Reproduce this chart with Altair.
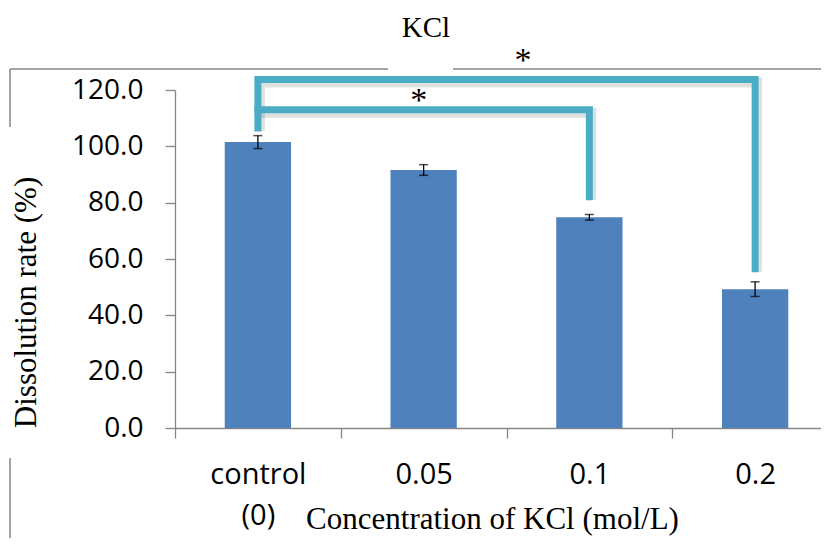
import altair as alt
import pandas as pd

# ---- data ----
categories = ["control", "0.05", "0.1", "0.2"]
means = [101.5, 91.6, 74.8, 49.3]
errors = [2.3, 1.9, 1.0, 2.6]

# significance brackets: (bracket id, category, y value, order)
br_id = ["outer", "outer", "outer", "outer", "inner", "inner", "inner"]
br_cat = ["control", "control", "0.2", "0.2", "control", "0.1", "0.1"]
br_val = [106.5, 123.7, 123.7, 56.5, 113.0, 113.0, 82.1]
br_ord = [0, 1, 2, 3, 0, 1, 2]

# asterisks: position in band units along x, y value
star_x = [2.1, 1.47]
star_y = [126.7, 112.5]
star_txt = ["*", "*"]

chart_title = "KCl"

bars_df = pd.DataFrame({"cat": categories, "mean": means, "err": errors})
br_df = pd.DataFrame({"id": br_id, "cat": br_cat, "val": br_val, "ord": br_ord})
star_df = pd.DataFrame({"sx": star_x, "sy": star_y, "t": star_txt})

BLUE = "#4F81BD"
TEAL = "#4BACC6"
GRAY = "#868686"

xscale = alt.Scale(domain=categories, range=[0, 663], paddingInner=0, paddingOuter=0)
yscale = alt.Scale(domain=[0, 120], nice=False)

xaxis = alt.Axis(
    title="Concentration of KCl (mol/L)",
    titleFont="Liberation Serif", titleFontSize=31, titleFontWeight="normal",
    titleColor="black", titleX=317, titleY=100, titleAlign="center",
    titleBaseline="alphabetic", titleAnchor="start",
    labelFont="Open Sans", labelFontSize=29, labelColor="black",
    labelAngle=0, labelBaseline="alphabetic", labelPadding=45,
    labelLineHeight=41,
    labelExpr="datum.value == 'control' ? ['control', '(0)'] : datum.value",
    tickBand="extent", tickSize=10, tickColor=GRAY, domainColor=GRAY,
    domainWidth=1.3, tickWidth=1.3, grid=False,
)
yaxis = alt.Axis(
    title="Dissolution rate (%)",
    titleFont="Liberation Serif", titleFontSize=31, titleFontWeight="normal",
    titleColor="black", titleAngle=-90, titleX=-140, titleY=212,
    titleAlign="center", titleBaseline="alphabetic", titleAnchor="start",
    labelFont="Open Sans", labelFontSize=28, labelColor="black",
    labelPadding=22, format=".1f", values=[0, 20, 40, 60, 80, 100, 120],
    tickSize=10, tickColor=GRAY, domainColor=GRAY, domainWidth=1.3,
    tickWidth=1.3, grid=False,
)

base = alt.Chart(bars_df)

bars = base.mark_bar(color=BLUE, width=alt.RelativeBandSize(0.4)).encode(
    x=alt.X("cat:N", scale=xscale, axis=xaxis, sort=categories),
    y=alt.Y("mean:Q", scale=yscale, axis=yaxis),
)

err_base = base.transform_calculate(
    lo="datum.mean - datum.err", hi="datum.mean + datum.err"
)
err_rule = err_base.mark_rule(color="black", strokeWidth=1.3).encode(
    x=alt.X("cat:N", scale=xscale, sort=categories),
    y="lo:Q", y2="hi:Q",
)
err_lo = err_base.mark_tick(color="black", size=9, thickness=1.5, orient="horizontal").encode(
    x=alt.X("cat:N", scale=xscale, sort=categories), y="lo:Q"
)
err_hi = err_base.mark_tick(color="black", size=9, thickness=1.5, orient="horizontal").encode(
    x=alt.X("cat:N", scale=xscale, sort=categories), y="hi:Q"
)

br_enc = dict(
    x=alt.X("cat:N", scale=xscale, sort=categories),
    y=alt.Y("val:Q", scale=yscale),
    detail="id:N",
    order="ord:Q",
)
br_shadow = alt.Chart(br_df).mark_line(
    color="#000000", opacity=0.12, strokeWidth=10, xOffset=2, yOffset=3,
    strokeJoin="miter", strokeCap="butt",
).encode(**br_enc)
br_line = alt.Chart(br_df).mark_line(
    color=TEAL, strokeWidth=7, strokeJoin="miter", strokeCap="square",
).encode(**br_enc)

stars = alt.Chart(star_df).mark_text(
    font="Liberation Serif", fontSize=34, color="black",
    baseline="alphabetic", align="center",
).encode(
    x=alt.X("sx:Q", scale=alt.Scale(domain=[0, 4], range=[0, 663], nice=False, zero=False), axis=None),
    y=alt.Y("sy:Q", scale=yscale),
    text="t:N",
)

# decorative chart frame (partly hidden by title boxes) and chart title
frame_df = pd.DataFrame({"k": [0]})
fr = alt.Chart(frame_df)
fstyle = dict(color=GRAY, strokeWidth=1.5)
f1 = fr.mark_rule(**fstyle).encode(x=alt.value(-165), x2=alt.value(213), y=alt.value(-21))
f2 = fr.mark_rule(**fstyle).encode(x=alt.value(278), x2=alt.value(700), y=alt.value(-21))
f3 = fr.mark_rule(**fstyle).encode(x=alt.value(-165), y=alt.value(-21), y2=alt.value(37))
f4 = fr.mark_rule(**fstyle).encode(x=alt.value(-165), y=alt.value(368), y2=alt.value(470))
title_mark = fr.mark_text(
    font="Liberation Serif", fontSize=29, color="black",
    baseline="alphabetic", align="center",
).encode(x=alt.value(251), y=alt.value(-53), text=alt.value(chart_title))

main = alt.layer(bars, err_rule, err_lo, err_hi, br_shadow, br_line)
chart = alt.layer(main, stars, f1, f2, f3, f4, title_mark).resolve_scale(x="independent").properties(
    width=646, height=338,
    autosize=alt.AutoSizeParams(type="none"),
    padding={"left": 167, "top": 82, "right": 0, "bottom": 110},
).configure_view(stroke=None)

chart.save("out.html", embed_options={"renderer": "svg", "actions": False})
